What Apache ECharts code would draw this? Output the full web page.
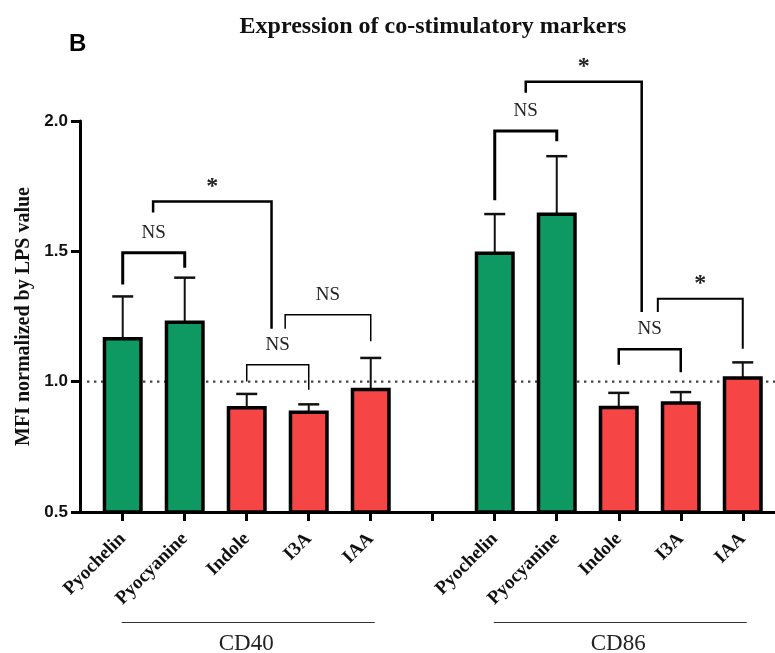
<!DOCTYPE html>
<html>
<head>
<meta charset="utf-8">
<script src="https://cdn.jsdelivr.net/npm/echarts@6/dist/echarts.min.js"></script>
<style>html,body{margin:0;padding:0;background:#fff}#c{width:775px;height:653px}</style>
</head>
<body>
<div id="c"></div>
<script>
// ---------- data ----------
const titleText = 'Expression of co-stimulatory markers';
const panelLetter = 'B';
const yAxisName = 'MFI normalized by LPS value';
const drugs = ['Pyochelin', 'Pyocyanine', 'Indole', 'I3A', 'IAA'];
const groups = ['CD40', 'CD86'];
const cd40Mean = [1.165, 1.228, 0.900, 0.883, 0.970];
const cd40Sd   = [0.162, 0.171, 0.053, 0.030, 0.121];
const cd86Mean = [1.493, 1.642, 0.901, 0.918, 1.014];
const cd86Sd   = [0.150, 0.223, 0.056, 0.042, 0.060];
const yTicks = [0.5, 1.0, 1.5, 2.0];
const referenceValue = 1.0;
// significance brackets (x in slot index, y in data units)
const bracketFrom     = [0, 0.49, 2, 2.62, 6, 6.5, 8, 8.63];
const bracketTo       = [1, 2.40, 3, 4, 7, 8.37, 9, 10];
const bracketTop      = [1.495, 1.691, 1.065, 1.257, 1.962, 2.151, 1.124, 1.318];
const bracketLeftEnd  = [1.373, 1.649, 1.001, 1.203, 1.696, 2.108, 1.065, 1.267];
const bracketRightEnd = [1.437, 1.203, 0.969, 1.155, 1.922, 1.267, 1.036, 1.126];
const bracketLabel    = ['NS', '*', 'NS', 'NS', 'NS', '*', 'NS', '*'];

// ---------- styling / layout ----------
const drugColors = ['#0e9962', '#0e9962', '#f54545', '#f54545', '#f54545'];
const bracketWidths = [3, 2.5, 1.5, 1.5, 3, 2.5, 2.5, 2];
const slotsPerGroup = drugs.length + 1;
const xMin = -0.689, xMax = 10.52;
const serif = 'Liberation Serif', sans = 'Liberation Sans';

const means = [cd40Mean, cd86Mean], sds = [cd40Sd, cd86Sd];
const barData = [];
const tickIdx = [], labelIdx = [];
groups.forEach((g, gi) => {
  drugs.forEach((d, di) => {
    const x = gi * slotsPerGroup + di;
    barData.push([x, means[gi][di], sds[gi][di], di]);
    labelIdx.push(x);
  });
});
for (let i = 0; i < groups.length * slotsPerGroup - 1; i++) tickIdx.push(i);
const labelFor = v => {
  const i = Math.round(v);
  const d = i % slotsPerGroup;
  return d < drugs.length ? drugs[d] : '';
};
const bracketData = bracketLabel.map((l, i) => [bracketFrom[i], bracketTop[i], bracketTo[i], bracketLeftEnd[i], bracketRightEnd[i], i]);
const groupData = groups.map((g, gi) => [gi * slotsPerGroup, yTicks[0], gi * slotsPerGroup + drugs.length - 1, gi]);

const chart = echarts.init(document.getElementById('c'), null, {renderer: 'canvas'});
chart.setOption({
  animation: false,
  backgroundColor: '#fff',
  graphic: [
    {type: 'text', left: 69, top: 32, style: {text: panelLetter, font: 'bold 24px "Liberation Sans"', fill: '#000'}},
    {type: 'text', x: 433, y: 27, style: {text: titleText, font: 'bold 24px "Liberation Serif"', fill: '#111', textAlign: 'center', textVerticalAlign: 'middle'}}
  ],
  grid: {left: 80, right: 0, top: 121, bottom: 141, containLabel: false},
  xAxis: {
    type: 'value', min: xMin, max: xMax,
    splitLine: {show: false},
    axisLine: {show: true, onZero: false, lineStyle: {color: '#000', width: 3}},
    axisTick: {show: true, customValues: tickIdx, length: 9, lineStyle: {color: '#000', width: 3}},
    axisLabel: {customValues: labelIdx, rotate: 45, margin: 24, formatter: labelFor,
      fontFamily: serif, fontWeight: 'bold', fontSize: 19, color: '#111'}
  },
  yAxis: {
    type: 'value', min: yTicks[0], max: yTicks[yTicks.length - 1], interval: 0.5,
    splitLine: {show: false},
    axisLine: {show: true, onZero: false, lineStyle: {color: '#000', width: 3}},
    axisTick: {show: true, length: 9, lineStyle: {color: '#000', width: 3}},
    axisLabel: {formatter: v => v.toFixed(1), fontFamily: sans, fontWeight: 'bold', fontSize: 17, color: '#111', margin: 12},
    name: yAxisName, nameLocation: 'middle', nameGap: 46,
    nameTextStyle: {fontFamily: serif, fontWeight: 'bold', fontSize: 20, color: '#111'}
  },
  series: [
    { // reference dotted line
      type: 'custom', z: 1, clip: false, silent: true,
      data: [[xMin, referenceValue]],
      encode: {x: 0, y: 1},
      renderItem: (params, api) => {
        const cs = params.coordSys;
        const y = api.coord([xMin, api.value(1)])[1];
        return {type: 'line', shape: {x1: cs.x + 7, y1: y, x2: cs.x + cs.width, y2: y},
          style: {stroke: '#444', lineWidth: 2.4, lineDash: [2.4, 4.6]}};
      }
    },
    { // bars with error bars
      type: 'custom', z: 3, clip: false, silent: true,
      data: barData, encode: {x: 0, y: 1},
      renderItem: (params, api) => {
        const x = api.value(0), v = api.value(1), sd = api.value(2), ci = api.value(3);
        const top = api.coord([x, v]);
        const base = api.coord([x, yTicks[0]]);
        const et = api.coord([x, v + sd]);
        const bw = 36.5, cw = 21;
        return {type: 'group', children: [
          {type: 'line', shape: {x1: top[0], y1: top[1], x2: et[0], y2: et[1]}, style: {stroke: '#111', lineWidth: 2}},
          {type: 'line', shape: {x1: et[0] - cw / 2, y1: et[1], x2: et[0] + cw / 2, y2: et[1]}, style: {stroke: '#111', lineWidth: 2.5}},
          {type: 'rect', shape: {x: top[0] - bw / 2, y: top[1], width: bw, height: base[1] - top[1]},
            style: {fill: drugColors[ci], stroke: '#000', lineWidth: 3.5}}
        ]};
      }
    },
    { // significance brackets
      type: 'custom', z: 4, clip: false, silent: true,
      data: bracketData, encode: {x: 0, y: 1},
      renderItem: (params, api) => {
        const x1 = api.value(0), yt = api.value(1), x2 = api.value(2), yl = api.value(3), yr = api.value(4), i = api.value(5);
        const pL = api.coord([x1, yt]), pR = api.coord([x2, yt]);
        const eL = api.coord([x1, yl]), eR = api.coord([x2, yr]);
        const lw = bracketWidths[i];
        const star = bracketLabel[i] === '*';
        return {type: 'group', children: [
          {type: 'polyline', shape: {points: [[eL[0], eL[1]], [pL[0], pL[1]], [pR[0], pR[1]], [eR[0], eR[1]]]},
            style: {stroke: '#000', lineWidth: lw, fill: null}},
          {type: 'text', x: (pL[0] + pR[0]) / 2, y: pL[1] - (star ? 15 : 20),
            style: {text: bracketLabel[i], textAlign: 'center', textVerticalAlign: 'middle',
              font: star ? 'bold 24px "Liberation Serif"' : '19px "Liberation Serif"', fill: '#222'}}
        ]};
      }
    },
    { // group underlines and labels
      type: 'custom', z: 4, clip: false, silent: true,
      data: groupData, encode: {x: 0, y: 1},
      renderItem: (params, api) => {
        const a = api.coord([api.value(0), api.value(1)]);
        const b = api.coord([api.value(2), api.value(1)]);
        const gi = api.value(3);
        const y = a[1] + 110.5;
        const x1 = a[0] - 1, x2 = b[0] + 4;
        return {type: 'group', children: [
          {type: 'line', shape: {x1: x1, y1: y, x2: x2, y2: y}, style: {stroke: '#333', lineWidth: 1.2}},
          {type: 'text', x: (x1 + x2) / 2 - 2, y: y + 21,
            style: {text: groups[gi], textAlign: 'center', textVerticalAlign: 'middle', font: '23px "Liberation Serif"', fill: '#222'}}
        ]};
      }
    }
  ]
});
</script>
</body>
</html>
